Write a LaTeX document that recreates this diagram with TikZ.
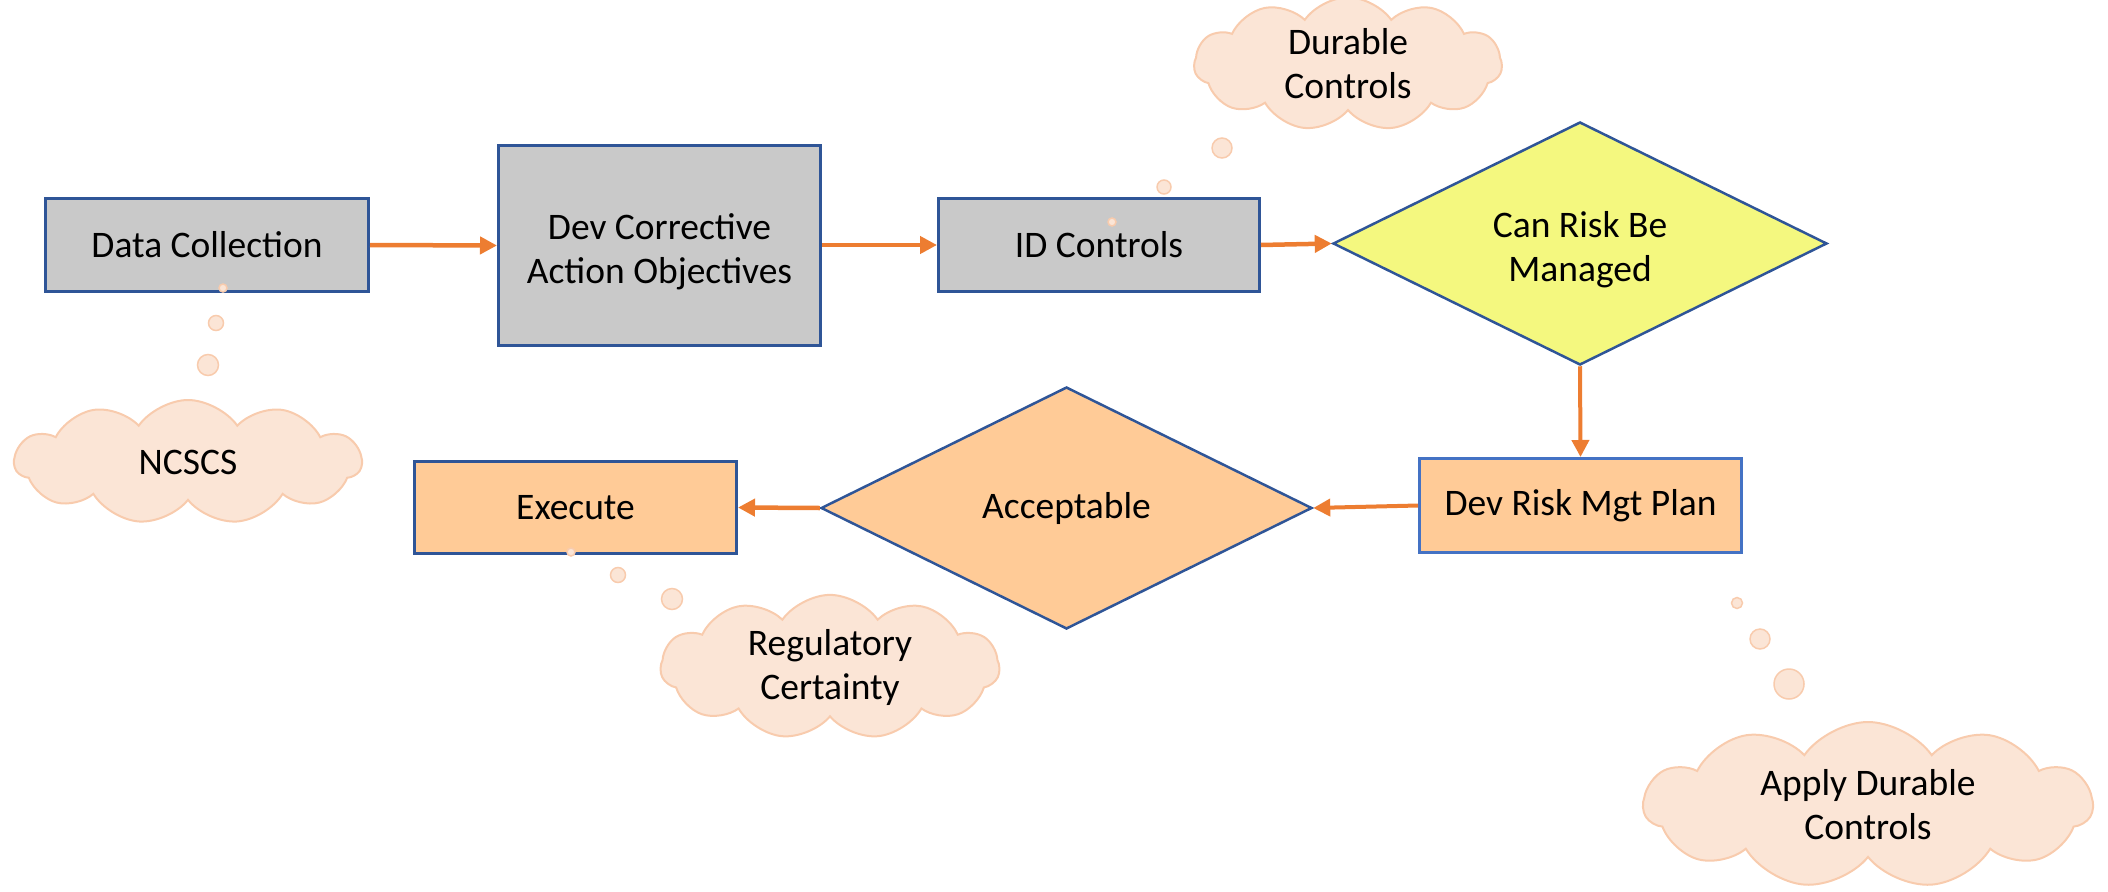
\documentclass[tikz,border=0pt]{standalone}
\usepackage{fontspec}
\setmainfont{Carlito}
\usetikzlibrary{shapes.geometric,shapes.symbols,arrows.meta}
\definecolor{boxblue}{HTML}{2F5597}
\definecolor{lightblue}{HTML}{4472C4}
\definecolor{boxgray}{HTML}{C9C9C9}
\definecolor{diayellow}{HTML}{F4F87F}
\definecolor{peach}{HTML}{FFCB97}
\definecolor{arrorange}{HTML}{ED7D31}
\definecolor{cloudfill}{HTML}{FBE5D6}
\definecolor{cloudline}{HTML}{F8CBAD}
\newcommand{\lowstrut}{\rule{0pt}{38pt}}
\tikzset{
  txt/.style={font=\fontsize{37.5}{44}\selectfont, align=center, text=black},
  graybox/.style={txt, draw=boxblue, line width=3pt, fill=boxgray, inner sep=0pt},
  peachbox/.style={txt, draw=boxblue, line width=3pt, fill=peach, inner sep=0pt},
  decision/.style={txt, diamond, aspect=2, draw=boxblue, line width=2.5pt, inner sep=0pt},
  thought/.style={txt, cloud, cloud puffs=11, cloud puff arc=110, aspect=2.6, fill=cloudfill, draw=cloudline, line width=2pt, inner sep=0pt},
  bubble/.style={circle, fill=cloudfill, draw=cloudline, line width=1.5pt, inner sep=0pt},
  arr/.style={draw=arrorange, line width=4.5pt, -{Triangle[length=17pt,width=17pt]}},
}
\begin{document}
\begin{tikzpicture}[x=1pt,y=-1pt]
\useasboundingbox (0,0) rectangle (2108,891);
% boxes
\node[graybox, minimum width=323pt, minimum height=93pt] (dc) at (207,245) {Data Collection};
\node[graybox, minimum width=322pt, minimum height=200pt] (dca) at (659.5,245.5) {\lowstrut Dev Corrective\\Action Objectives};
\node[graybox, minimum width=321pt, minimum height=93pt] (idc) at (1099,245) {ID Controls};
\node[decision, fill=diayellow, minimum width=494pt, minimum height=243pt] (crm) at (1580,243.5) {\lowstrut Can Risk Be\\Managed};
\node[peachbox, draw=lightblue, minimum width=322pt, minimum height=94pt] (drp) at (1580.5,505.5) {Dev Risk Mgt Plan};
\node[decision, fill=peach, minimum width=491pt, minimum height=242pt] (acc) at (1066.5,508) {Acceptable};
\node[peachbox, minimum width=322pt, minimum height=92pt] (exe) at (575.5,507.5) {Execute};
% clouds
\node[thought, minimum width=308pt, minimum height=110pt] (cdur) at (1348,64) {Durable\\Controls};
\node[thought, minimum width=347pt, minimum height=124pt] (cnc) at (188,462) {NCSCS};
\node[thought, minimum width=339pt, minimum height=126pt] (creg) at (830,667) {Regulatory\\Certainty};
\node[thought, minimum width=449pt, minimum height=166pt] (capp) at (1868,805) {Apply Durable\\Controls};
% bubbles
\node[bubble, minimum size=20pt] (d3) at (1222,148) {};
\node[bubble, minimum size=14pt] (d2) at (1164,187) {};
\node[bubble, minimum size=8pt] (d1) at (1112,222) {};
\node[bubble, minimum size=8pt] (n1) at (223,288) {};
\node[bubble, minimum size=15pt] (n2) at (216,323) {};
\node[bubble, minimum size=21pt] (n3) at (208,365) {};
\node[bubble, minimum size=8pt] (r1) at (571,552) {};
\node[bubble, minimum size=15pt] (r2) at (618,575) {};
\node[bubble, minimum size=21pt] (r3) at (672,599) {};
\node[bubble, minimum size=11pt] (a1) at (1737,603) {};
\node[bubble, minimum size=20pt] (a2) at (1760,639) {};
\node[bubble, minimum size=30pt] (a3) at (1789,684) {};
% connectors
\draw[arr] (dc.east) -- (dca.west);
\draw[arr] (dca.east |- dc.east) -- (idc.west);
\draw[arr] (idc.east) -- (crm.west);
\draw[arr, line width=4pt] (crm.south) -- (drp.north);
\draw[arr, line width=4pt] (drp.west) -- (acc.east);
\draw[arr] (acc.west) -- (exe.east);
\end{tikzpicture}
\end{document}
